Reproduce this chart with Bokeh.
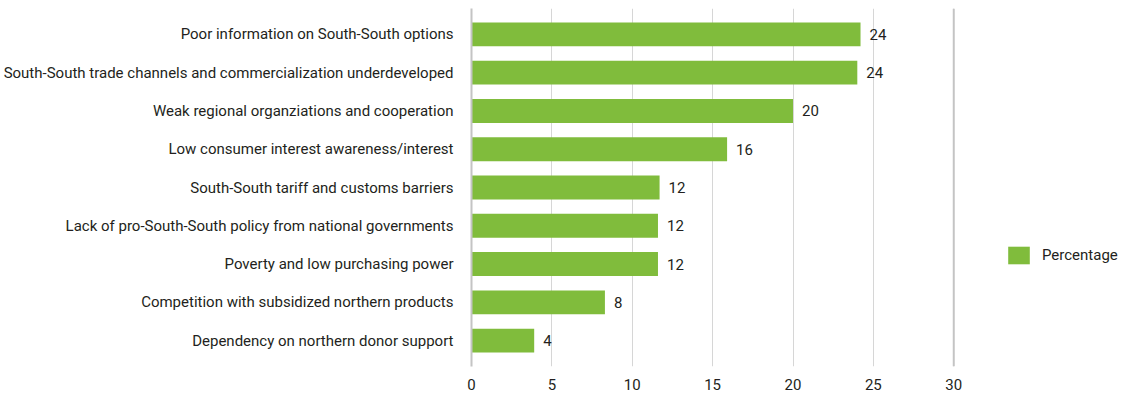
from bokeh.plotting import figure
from bokeh.models import FactorRange, Range1d, Span, Legend, LegendItem, ColumnDataSource
from bokeh.core.properties import value
from bokeh.embed import file_html
from bokeh.resources import INLINE

categories = [
    "Poor information on South-South options",
    "South-South trade channels and commercialization underdeveloped",
    "Weak regional organziations and cooperation",
    "Low consumer interest awareness/interest",
    "South-South tariff and customs barriers",
    "Lack of pro-South-South policy from national governments",
    "Poverty and low purchasing power",
    "Competition with subsidized northern products",
    "Dependency on northern donor support",
]
percentages = [24.2, 24.0, 20.0, 15.9, 11.7, 11.6, 11.6, 8.3, 3.9]
value_labels = ["24", "24", "20", "16", "12", "12", "12", "8", "4"]
x_ticks = [0, 5, 10, 15, 20, 25, 30]
series_name = "Percentage"

FONT = "Roboto"
FS = "15px"
GREEN = "#80bc3c"
TEXT = "#231f20"

src = ColumnDataSource(dict(cat=categories, val=percentages, lab=value_labels))

W, H = 1121, 392
LEFT = 470
# 0 -> 30 spans 483 px; frame extends right to host the legend
x_end = 30 * (W - LEFT) / 483.0

p = figure(
    width=W, height=H,
    y_range=FactorRange(factors=list(reversed(categories)), range_padding=0.35 / 9),
    x_range=Range1d(0, x_end),
    output_backend="svg", toolbar_location=None,
    min_border_left=LEFT, min_border_right=0, min_border_top=8, min_border_bottom=26,
)
p.outline_line_color = None
p.background_fill_color = "white"

r = p.hbar(y="cat", right="val", left=0, height=0.625, source=src,
           fill_color=GREEN, line_color=None)

p.text(x="val", y="cat", text="lab", source=src, x_offset=9,
       text_baseline="middle", text_align="left",
       text_font=value(FONT), text_font_size=FS, text_color=TEXT)

# axes
p.xaxis.ticker = x_ticks
p.xaxis.axis_line_color = None
p.xaxis.major_tick_line_color = None
p.xaxis.minor_tick_line_color = None
p.xaxis.major_label_standoff = 6
p.xaxis.major_label_text_font = FONT
p.xaxis.major_label_text_font_size = FS
p.xaxis.major_label_text_color = TEXT

p.yaxis.axis_line_color = "#c4c4c4"
p.yaxis.axis_line_width = 2
p.yaxis.major_tick_line_color = None
p.yaxis.minor_tick_line_color = None
p.yaxis.major_label_standoff = 12
p.yaxis.major_label_text_font = FONT
p.yaxis.major_label_text_font_size = FS
p.yaxis.major_label_text_color = TEXT

p.xgrid.grid_line_color = "#d6d6d6"
p.xgrid.grid_line_width = 1
p.ygrid.grid_line_color = None

p.add_layout(Span(location=30, dimension="height", line_color="#c4c4c4", line_width=2))

legend = Legend(items=[LegendItem(label=series_name, renderers=[r])],
                location=(534, 100), padding=0, margin=0, spacing=0,
                glyph_width=27, glyph_height=22, label_height=22,
                label_standoff=10, border_line_color=None,
                background_fill_alpha=0,
                label_text_font=FONT, label_text_font_size=FS,
                label_text_color=TEXT, label_text_baseline="middle")
p.add_layout(legend, "center")

open("out.html", "w").write(file_html(p, INLINE))
